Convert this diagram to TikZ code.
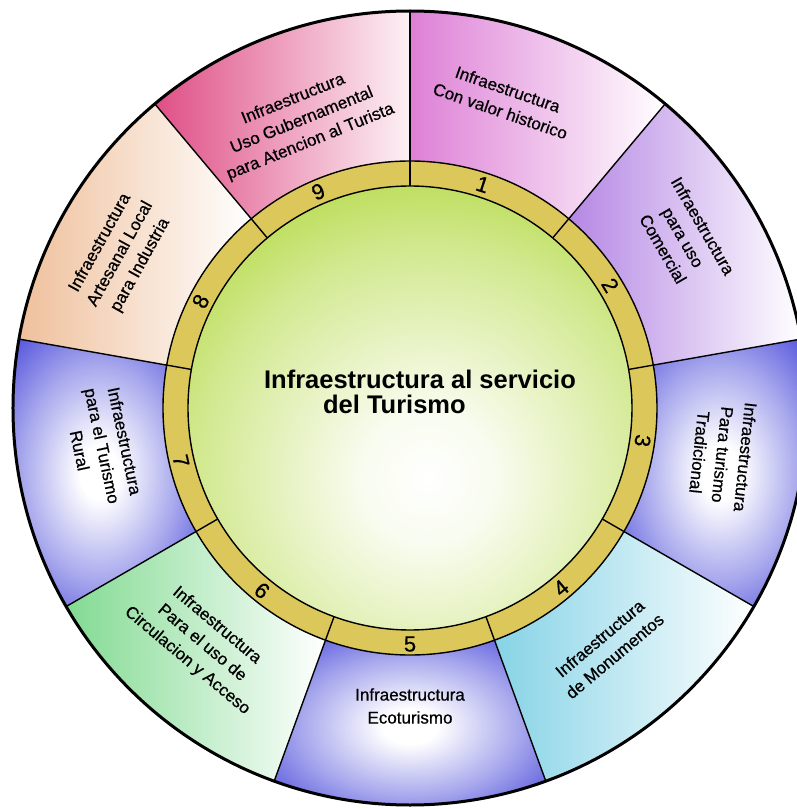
\documentclass[tikz,border=0pt]{standalone}
\usepackage{fontspec}
\setmainfont{Liberation Sans}
\usepackage{xcolor}
\definecolor{hubgreen}{HTML}{ADD634}
\definecolor{ringgold}{HTML}{DCC75A}
\definecolor{orchid}{HTML}{DE80D6}
\definecolor{lavender}{HTML}{B587E4}
\definecolor{petalblue}{HTML}{3E3ED8}
\definecolor{seacyan}{HTML}{86D3E6}
\definecolor{mintgreen}{HTML}{82DA92}
\definecolor{peach}{HTML}{EFC09C}
\definecolor{crimson}{HTML}{DF4F86}
\usepackage{tikz}
\usetikzlibrary{positioning}
\pgfdeclareradialshading{hubglow}{\pgfpoint{0bp}{0bp}}{color(0bp)=(white); color(5bp)=(white!92!hubgreen); color(17bp)=(hubgreen!55!white); color(26bp)=(hubgreen); color(50bp)=(hubgreen)}
\pgfdeclareradialshading{petalglow}{\pgfpoint{0bp}{0bp}}{color(0bp)=(white); color(5bp)=(white); color(20bp)=(petalblue!45!white); color(33bp)=(petalblue!88!white); color(50bp)=(petalblue)}

\begin{document}
\begin{tikzpicture}[
        x=1pt, y=1pt,
        petaltext/.style={font=\fontsize{17}{23}\selectfont\addfontfeature{FakeBold=0.6}, align=center, inner sep=1pt},
        ringnum/.style={font=\fontsize{22}{22}\selectfont\addfontfeature{FakeBold=0.6}, inner sep=0pt},
        border/.style={draw=black, line width=1.4pt}
    ]
        \useasboundingbox[fill=white] (-410,-401) rectangle (386,408);

        % petals
        \shade[left color=orchid, right color=white] (90:247) -- (90:397) arc[start angle=90, end angle=50, radius=397] -- (50:247) arc[start angle=50, end angle=90, radius=247] -- cycle;
        \shade[left color=lavender, right color=white] (50:247) -- (50:397) arc[start angle=50, end angle=10, radius=397] -- (10:247) arc[start angle=10, end angle=50, radius=247] -- cycle;
        \shade[shading=petalglow] (10:247) -- (10:397) arc[start angle=10, end angle=-30, radius=397] -- (-30:247) arc[start angle=-30, end angle=10, radius=247] -- cycle;
        \shade[left color=seacyan, right color=white] (-30:247) -- (-30:397) arc[start angle=-30, end angle=-70, radius=397] -- (-70:247) arc[start angle=-70, end angle=-30, radius=247] -- cycle;
        \shade[shading=petalglow] (-70:247) -- (-70:397) arc[start angle=-70, end angle=-110, radius=397] -- (-110:247) arc[start angle=-110, end angle=-70, radius=247] -- cycle;
        \shade[left color=mintgreen, right color=white] (-110:247) -- (-110:397) arc[start angle=-110, end angle=-150, radius=397] -- (-150:247) arc[start angle=-150, end angle=-110, radius=247] -- cycle;
        \shade[shading=petalglow] (210:247) -- (210:397) arc[start angle=210, end angle=170, radius=397] -- (170:247) arc[start angle=170, end angle=210, radius=247] -- cycle;
        \shade[left color=peach, right color=white] (170:247) -- (170:397) arc[start angle=170, end angle=130, radius=397] -- (130:247) arc[start angle=130, end angle=170, radius=247] -- cycle;
        \shade[left color=crimson, right color=crimson!8] (130:247) -- (130:397) arc[start angle=130, end angle=90, radius=397] -- (90:247) arc[start angle=90, end angle=130, radius=247] -- cycle;

        % ring and hub
        \fill[ringgold, even odd rule] (0,0) circle (247) (0,0) circle (222);
        \begin{scope}
            \clip (0,0) circle (222);
            \shade[shading=hubglow] (18,-70) circle (340);
        \end{scope}

        % borders
        \draw[border] (90:222) -- (90:397);
        \draw[border] (50:222) -- (50:397);
        \draw[border] (10:222) -- (10:397);
        \draw[border] (-30:222) -- (-30:397);
        \draw[border] (-70:222) -- (-70:397);
        \draw[border] (-110:222) -- (-110:397);
        \draw[border] (-150:222) -- (-150:397);
        \draw[border] (170:222) -- (170:397);
        \draw[border] (130:222) -- (130:397);
        \draw[border] (0,0) circle (222) (0,0) circle (247);
        \draw[line width=3pt] (0,0) circle (397);

        % ring numbers
        \node[ringnum, rotate=-18] (n1) at (72:235) {1};
        \node[ringnum, rotate=-59] (n2) at (31.5:235) {2};
        \node[ringnum, rotate=-98] (n3) at (-8:235) {3};
        \node[ringnum, rotate=40] (n4) at (-50:235) {4};
        \node[ringnum] (n5) at (-90:236) {5};
        \node[ringnum, rotate=-39] (n6) at (-129:235) {6};
        \node[ringnum, rotate=-77] (n7) at (-167:235) {7};
        \node[ringnum, rotate=63] (n8) at (153:235) {8};
        \node[ringnum, rotate=23] (n9) at (113:235) {9};

        % petal labels
        \node[petaltext, rotate=-19] (p1) at (73:322) {Infraestructura\\Con valor historico};
        \node[petaltext, rotate=-60] (p2) at (32:322) {Infraestructura\\para uso\\Comercial};
        \node[petaltext, rotate=-96] (p3) at (-8.5:316) {Infraestructura\\Para turismo\\Tradicional};
        \node[petaltext, rotate=40] (p4) at (-50.5:310) {Infraestructura\\de Monumentos};
        \node[petaltext] (p5) at (-90:298) {Infraestructura\\Ecoturismo};
        \node[petaltext, rotate=-40] (p6) at (-131.5:314) {Infraestructura\\Para el uso de\\Circulacion y Acceso};
        \node[petaltext, rotate=-78] (p7) at (187:310) {Infraestructura\\para el Turismo\\Rural};
        \node[petaltext, rotate=61] (p8) at (152:328) {Infraestructura\\Artesanal Local\\para Industria};
        \node[petaltext, rotate=22] (p9) at (110.6:307) {Infraestructura\\Uso Gubernamental\\para Atencion al Turista};

        % title
        \node[font=\fontsize{25.5}{25}\selectfont\bfseries, align=left] (hub) at (10,16) {Infraestructura al servicio\\\hspace*{59pt}del Turismo};
    \end{tikzpicture}
\end{document}
